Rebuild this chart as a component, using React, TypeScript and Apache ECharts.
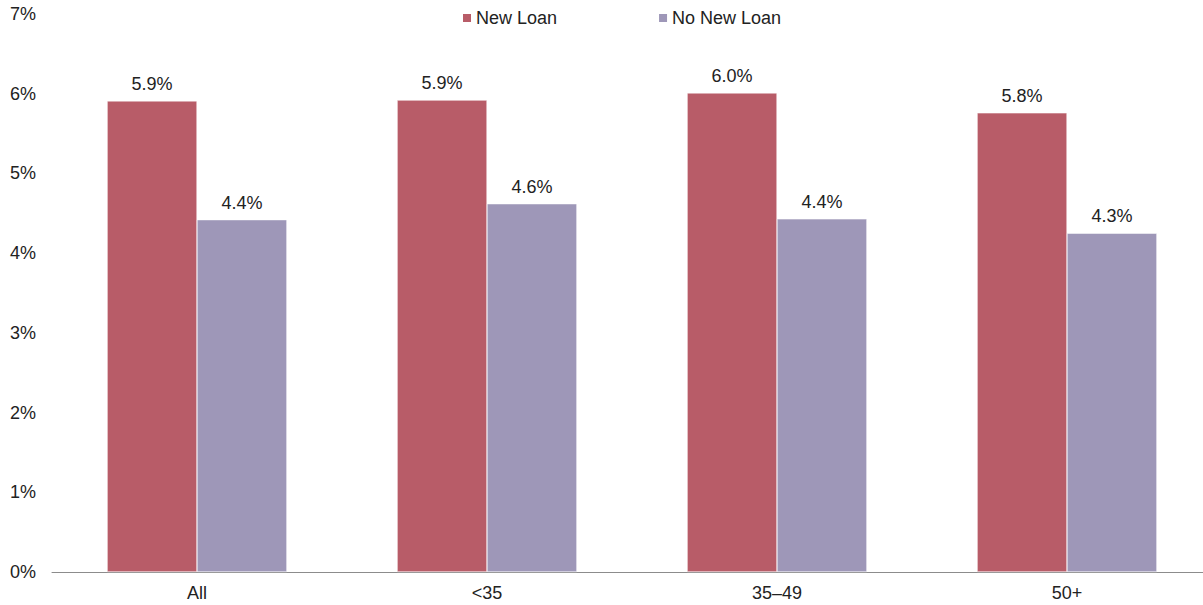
import React, { useEffect, useRef } from "react";
import * as echarts from "echarts";

const categories = ["All", "<35", "35–49", "50+"];
const newLoan = [5.91, 5.92, 6.01, 5.76];
const noNewLoan = [4.42, 4.62, 4.43, 4.25];
const newLoanLabels = ["5.9%", "5.9%", "6.0%", "5.8%"];
const noNewLoanLabels = ["4.4%", "4.6%", "4.4%", "4.3%"];

export default function App() {
  const ref = useRef<HTMLDivElement>(null);
  useEffect(() => {
    document.body.style.margin = "0";
    const chart = echarts.init(ref.current!, null, { renderer: "svg" });
    const font = "Liberation Sans, Arial, sans-serif";
    chart.setOption({
      animation: false,
      textStyle: { fontFamily: font },
      legend: {
        top: 4,
        left: 456,
        itemWidth: 10,
        itemHeight: 10,
        itemGap: 100,
        icon: "rect",
        textStyle: { fontSize: 18, color: "#222", fontFamily: font, padding: [0, 0, 0, -1] },
        data: ["New Loan", "No New Loan"],
      },
      grid: { left: 52, width: 1160, top: 14, bottom: 33, outerBoundsMode: "none", containLabel: false },
      xAxis: {
        type: "category",
        data: categories,
        axisLine: { lineStyle: { color: "#8c8c8c", width: 1 } },
        axisTick: { show: false },
        axisLabel: { fontSize: 18, color: "#222", margin: 12, fontFamily: font },
      },
      yAxis: {
        type: "value",
        min: 0,
        max: 7,
        interval: 1,
        splitLine: { show: false },
        axisLine: { show: false },
        axisTick: { show: false },
        axisLabel: {
          fontSize: 18,
          color: "#222",
          margin: 16,
          fontFamily: font,
          formatter: (v: number) => v + "%",
        },
      },
      series: [
        {
          name: "New Loan",
          type: "bar",
          data: newLoan,
          barWidth: "31%",
          barGap: "0%",
          itemStyle: { color: "#b85c68", borderColor: "#ffffff", borderWidth: 0.5 },
          label: {
            show: true,
            position: "top",
            distance: 8,
            fontSize: 18,
            color: "#222",
            fontFamily: font,
            formatter: (p: any) => newLoanLabels[p.dataIndex],
          },
        },
        {
          name: "No New Loan",
          type: "bar",
          data: noNewLoan,
          barWidth: "31%",
          barGap: "0%",
          itemStyle: { color: "#9e97b8", borderColor: "#ffffff", borderWidth: 0.5 },
          label: {
            show: true,
            position: "top",
            distance: 8,
            fontSize: 18,
            color: "#222",
            fontFamily: font,
            formatter: (p: any) => noNewLoanLabels[p.dataIndex],
          },
        },
      ],
    });
    return () => chart.dispose();
  }, []);
  return <div ref={ref} style={{ width: 1203, height: 605 }} />;
}
